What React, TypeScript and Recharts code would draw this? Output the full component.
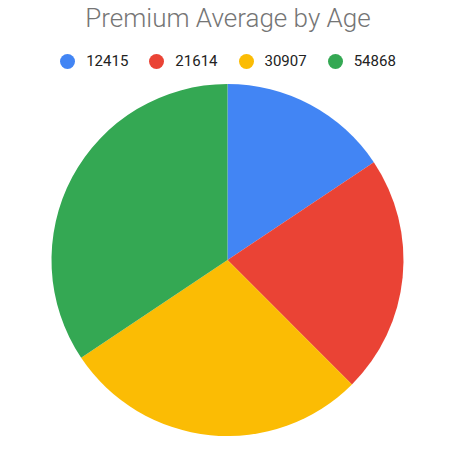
import { PieChart, Pie, Cell, Legend } from 'recharts';

const title = 'Premium Average by Age';
const labels = ['12415', '21614', '30907', '54868'];
const values = [25, 35, 45, 55];
const colors = ['#4285F4', '#EA4335', '#FBBC04', '#34A853'];

const data = labels.map((name, i) => ({ name, value: values[i] }));

const LegendContent = () => (
  <div style={{ display: 'flex', justifyContent: 'center', gap: 21 }}>
    {labels.map((l, i) => (
      <div key={l} style={{ display: 'flex', alignItems: 'center' }}>
        <span
          style={{
            width: 15, height: 15, borderRadius: '50%', backgroundColor: colors[i],
            display: 'inline-block', marginRight: 11,
          }}
        />
        <span style={{ fontSize: '15px', color: '#222222', lineHeight: '15px' }}>{l}</span>
      </div>
    ))}
  </div>
);

export default function App() {
  return (
    <div
      style={{
        position: 'absolute', left: 0, top: 0, width: 465, height: 468,
        backgroundColor: '#ffffff', fontFamily: 'Roboto, sans-serif',
      }}
    >
      <div
        style={{
          position: 'absolute', top: 5, left: 0, width: 456, textAlign: 'center',
          fontSize: '26px', lineHeight: '26px', color: '#757575', fontWeight: 300,
        }}
      >
        {title}
      </div>
      <PieChart width={465} height={468}>
        <Legend
          verticalAlign="top"
          content={<LegendContent />}
          wrapperStyle={{ top: 54, left: 0, width: 456 }}
        />
        {/* chart offset (left 5, top ~20 from the legend) gets added to cx/cy */}
        <Pie
          data={data}
          dataKey="value"
          nameKey="name"
          cx={222.5}
          cy={240}
          outerRadius={176}
          startAngle={90}
          endAngle={-270}
          stroke="none"
          isAnimationActive={false}
        >
          {data.map((d, i) => (
            <Cell key={d.name} fill={colors[i]} />
          ))}
        </Pie>
      </PieChart>
    </div>
  );
}
